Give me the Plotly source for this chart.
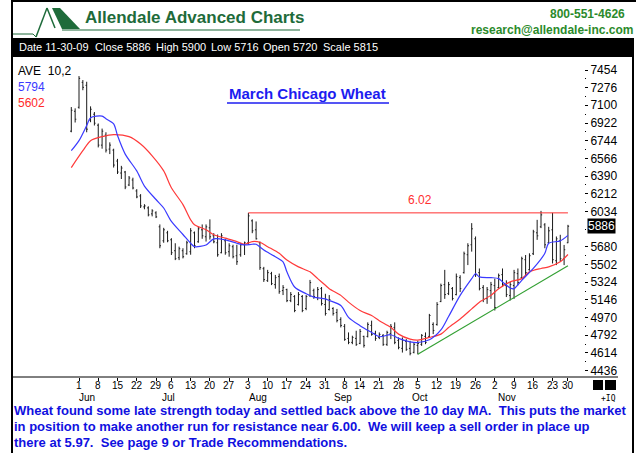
import plotly.graph_objects as go
import pandas as pd

# ---------------- data ----------------
holidays = ["2009-07-03", "2009-09-07", "2009-11-26"]
dates = [d for d in pd.bdate_range("2009-05-28", "2009-11-30") if d.strftime("%Y-%m-%d") not in holidays]

highs = [7082,7069,7393,7353,7336,7089,7032,6917,6866,6829,
         6728,6664,6562,6492,6441,6390,6373,6258,6208,6107,
         6086,6056,6036,5904,5870,5840,5766,5715,5681,5665,
         5740,5867,5833,5880,5904,5904,5955,5816,5803,5816,
         5760,5715,5700,5700,5715,5732,6020,5955,5934,5732,
         5478,5448,5428,5397,5411,5295,5259,5225,5195,5225,
         5195,5195,5347,5259,5276,5276,5208,5195,5073,5056,
         4972,4904,4820,4787,4837,4854,4787,4921,4938,4837,
         4820,4803,4837,4904,4921,4770,4770,4753,4736,4719,
         4736,4803,4820,5006,4921,5124,5310,5448,5327,5276,
         5411,5394,5631,5715,5917,5783,5462,5295,5276,5327,
         5360,5411,5462,5343,5327,5448,5462,5580,5597,5614,
         5850,5950,6040,5917,5880,6020,5783,5800,5698,5900]
lows = [6829,6927,7066,7251,6829,6930,6897,6677,6664,6626,
        6610,6475,6410,6360,6258,6289,6256,6167,6069,6056,
        5985,5985,5968,5665,5720,5725,5597,5546,5546,5563,
        5600,5600,5665,5720,5760,5732,5752,5715,5580,5614,
        5600,5580,5563,5498,5580,5597,5698,5816,5752,5448,
        5327,5327,5295,5259,5208,5195,5124,5124,5023,5090,
        5023,5043,5175,5157,5144,5090,4989,5040,4989,4921,
        4870,4736,4702,4702,4685,4702,4668,4770,4787,4736,
        4753,4685,4685,4753,4702,4651,4618,4635,4590,4610,
        4600,4685,4702,4770,4803,4888,5124,5157,5195,5141,
        5192,5225,5411,5496,5631,5377,5242,5124,5107,5157,
        5040,5259,5276,5175,5141,5157,5293,5360,5394,5440,
        5597,5749,5867,5665,5715,5512,5496,5529,5496,5716]
opens = [6840,7040,7080,7330,7300,6950,7010,6900,6700,6800,
         6660,6650,6540,6420,6430,6300,6350,6240,6190,6080,
         6070,6010,6020,5880,5740,5820,5750,5640,5570,5640,
         5610,5630,5820,5730,5850,5780,5870,5790,5720,5620,
         5740,5630,5680,5590,5600,5700,5720,5940,5850,5720,
         5460,5340,5410,5300,5380,5240,5250,5140,5180,5100,
         5180,5060,5190,5240,5170,5260,5100,5050,5060,5020,
         4950,4880,4760,4720,4760,4710,4780,4780,4890,4810,
         4770,4790,4700,4810,4870,4740,4660,4730,4660,4620,
         4690,4700,4780,4780,4900,4900,5130,5300,5210,5260,
         5200,5370,5420,5600,5700,5760,5420,5270,5160,5240,
         5290,5270,5400,5290,5190,5290,5410,5370,5550,5450,
         5610,5820,5880,5900,5720,5850,5540,5740,5560,5720]
closes = [7050,6960,7370,7280,6860,7060,6920,6700,6840,6650,
          6700,6500,6430,6470,6280,6370,6270,6180,6090,6090,
          6000,6040,5980,5690,5850,5740,5620,5560,5660,5580,
          5720,5840,5690,5860,5790,5880,5780,5730,5600,5790,
          5620,5690,5580,5530,5700,5720,5990,5840,5760,5470,
          5350,5420,5310,5370,5230,5270,5140,5200,5040,5200,
          5040,5180,5320,5180,5250,5110,5010,5150,5010,4940,
          4890,4750,4720,4770,4700,4830,4690,4900,4800,4760,
          4800,4700,4820,4880,4720,4670,4740,4650,4610,4700,
          4710,4790,4720,4990,4840,5100,5290,5200,5300,5160,
          5380,5260,5610,5690,5860,5400,5260,5150,5250,5300,
          5070,5390,5300,5200,5300,5420,5320,5560,5420,5590,
          5830,5790,6000,5700,5840,5550,5760,5560,5650,5886]

# moving averages (trading-day index, value)
ma10_idx = [0,2,4,5,8,9,11,12,14,17,19,22,24,26,29,31,32,35,37,40,43,45,47,48,50,53,55,56,58,61,
            63,66,67,70,72,75,78,80,83,85,88,90,93,96,98,101,104,105,106,109,111,112,114,115,117,120,123,124,127,129]
ma10 = [6644,6745,6897,6975,6991,6965,6914,6796,6610,6441,6289,6154,6069,5934,5803,5715,5681,5698,5759,5749,
        5715,5698,5705,5705,5647,5580,5529,5428,5276,5208,5175,5157,5141,5090,4972,4888,4820,4777,4797,4760,
        4726,4719,4746,4845,4980,5192,5360,5411,5377,5370,5360,5327,5266,5259,5343,5462,5614,5715,5739,5794]
ma20_idx = [0,3,5,8,11,15,18,21,24,26,29,31,32,35,37,40,43,45,47,49,51,54,56,59,62,64,66,67,70,72,
            75,78,80,83,85,88,90,93,96,98,101,104,106,109,111,114,117,119,122,124,127,129]
ma20 = [6475,6644,6745,6785,6806,6785,6711,6593,6441,6272,6103,5951,5901,5850,5800,5766,5732,5705,5732,5725,
        5681,5614,5546,5478,5428,5360,5293,5259,5192,5124,5040,4989,4938,4871,4803,4753,4743,4770,4803,4870,
        4955,5056,5124,5192,5259,5327,5360,5428,5462,5478,5529,5602]

resist_value = 6020
resist_label = "6.02"
resist_dates = ["2009-08-03", "2009-11-30"]
trend_dates = ["2009-10-05", "2009-11-30"]
trend_values = [4600, 5490]

ytick_vals = [7454,7276,7100,6922,6744,6566,6390,6212,6034,5680,5502,5324,5146,4970,4792,4614,4436]
last_close = 5886
month_names = ["Jun", "Jul", "Aug", "Sep", "Oct", "Nov"]

info_items = ["Date 11-30-09", "Close 5886", "High 5900", "Low 5716", "Open 5720", "Scale 5815"]
comment_lines = [
    "Wheat found some late strength today and settled back above the 10 day MA.  This puts the market",
    "in position to make another run for resistance near 6.00.  We will keep a sell order in place up",
    "there at 5.97.  See page 9 or Trade Recommendations.",
]

# ---------------- helpers ----------------
W, H = 636, 453
def px(x): return x / W
def py(y): return 1 - y / H

date_str = [d.strftime("%Y-%m-%d") for d in dates]
idx = list(range(len(dates)))
def di(s): return date_str.index(s)

tick_idx, tick_txt = [], []
for i, d in enumerate(dates):
    if d >= pd.Timestamp("2009-06-01") and (i == 0 or d.isocalendar()[1] != dates[i-1].isocalendar()[1]):
        tick_idx.append(i); tick_txt.append(str(d.day))

X0, PPD = 71.3, 3.85   # pixel of first bar, pixels per day
def xr(p): return (p - X0) / PPD

SANS = "Liberation Sans, Arial, sans-serif"

fig = go.Figure()
fig.add_trace(go.Ohlc(x=idx, open=opens, high=highs, low=lows, close=closes,
                      increasing=dict(line=dict(color="#1a1a1a", width=1)),
                      decreasing=dict(line=dict(color="#1a1a1a", width=1)),
                      tickwidth=0.3, hoverinfo="skip", showlegend=False))
fig.add_trace(go.Scatter(x=ma20_idx, y=ma20, mode="lines", line=dict(color="#ff3a3a", width=1.2, shape="spline", smoothing=0.8),
                         showlegend=False, hoverinfo="skip"))
fig.add_trace(go.Scatter(x=ma10_idx, y=ma10, mode="lines", line=dict(color="#3a3aff", width=1.2, shape="spline", smoothing=0.8),
                         showlegend=False, hoverinfo="skip"))
fig.add_trace(go.Scatter(x=[di(s) for s in resist_dates], y=[resist_value]*2, mode="lines",
                         line=dict(color="#ff3030", width=1), showlegend=False, hoverinfo="skip"))
fig.add_trace(go.Scatter(x=[di(s) for s in trend_dates], y=trend_values, mode="lines",
                         line=dict(color="#33a033", width=1.2), showlegend=False, hoverinfo="skip"))

y_top, y_bot = 58, 377
v_top = 7454 + (70 - y_top) * 10.037
v_bot = 7454 - (y_bot - 70) * 10.037
minor_vals = [(a + b) / 2 for a, b in zip(ytick_vals[:-1], ytick_vals[1:])]

shapes = []
def line(x0, y0, x1, y1, color="black", width=1):
    shapes.append(dict(type="line", xref="paper", yref="paper", x0=px(x0), y0=py(y0), x1=px(x1), y1=py(y1),
                       line=dict(color=color, width=width)))
def rect(x0, y0, x1, y1, color):
    shapes.append(dict(type="rect", xref="paper", yref="paper", x0=px(x0), y0=py(y0), x1=px(x1), y1=py(y1),
                       fillcolor=color, line=dict(width=0)))

# frame
line(12, 0, 12, 453, width=2)
line(12, 1, 636, 1, width=2)
line(633, 38, 633, 453, width=2)
# info bar
rect(12, 38, 633, 57, "black")
# bottom axis line
line(13, 377, 618, 377, width=1)
# squares
rect(593, 380, 603, 390, "black")
rect(605, 380, 616, 390, "black")
# logo
GREEN = "#1e6b3a"
line(13, 34, 33, 34, color=GREEN, width=1)
line(33, 34, 36, 37, color=GREEN, width=1)
line(36, 37, 47, 8, color=GREEN, width=1.5)
line(47, 8, 55, 28, color=GREEN, width=1.5)
shapes.append(dict(type="path", xref="paper", yref="paper",
                   path=f"M {px(52)} {py(8)} L {px(60)} {py(8)} L {px(80)} {py(29)} L {px(62)} {py(29)} Z",
                   fillcolor=GREEN, line=dict(width=0)))
line(62, 30, 300, 30, color=GREEN, width=1.2)
# title underline
line(227, 103, 389, 103, color="#1c1cf0", width=1.5)

ann = []
def text(x, y, s, size=12, color="black", anchor="left", family=SANS, bold=False, **kw):
    ann.append(dict(xref="paper", yref="paper", x=px(x), y=py(y), text=f"<b>{s}</b>" if bold else s,
                    showarrow=False, xanchor=anchor, yanchor="middle",
                    font=dict(size=size, color=color, family=family), **kw))

text(83, 18, "Allendale Advanced Charts", size=17, color=GREEN, bold=True)
text(627, 14, "800-551-4626", size=12, color="#2b8a2b", anchor="right", bold=True)
text(635, 30, "research@allendale-inc.com", size=12, color="#2b8a2b", anchor="right", bold=True)
for s, x in zip(info_items, [17, 93, 154, 209, 261, 321]):
    text(x, 47.5, s, size=11, color="white")
text(16, 71, "AVE  10,2", size=12)
text(16, 87, "5794", size=12, color="#3a3aff")
text(16, 103, "5602", size=12, color="#ff2a2a")
text(307.5, 94, "March Chicago Wheat", size=15, color="#1c1cf0", anchor="center", bold=True)
for i, s in zip(tick_idx, tick_txt):
    ann.append(dict(xref="x", yref="paper", x=i, y=py(385), text=s, showarrow=False,
                    xanchor="center", yanchor="middle", font=dict(size=10, color="black", family=SANS)))
for s, x in zip(month_names, [87, 168, 258, 343, 420, 507]):
    text(x, 397.5, s, size=10, anchor="center")
text(608, 398, "+IQ", size=8, family="DejaVu Sans Mono, monospace", anchor="center")
for i, s in enumerate(comment_lines):
    text(12, 410 + 16 * i, s, size=13, color="#1010e0", bold=True)

# resistance label
ann.append(dict(xref="x", yref="y", x=xr(420), y=resist_value, yshift=13, text=resist_label, showarrow=False,
                font=dict(size=12, color="#ff3030", family=SANS)))
# last close highlighted tick label
ann.append(dict(xref="paper", yref="y", x=px(587), y=last_close, text=str(last_close), showarrow=False,
                xanchor="left", yanchor="middle", bgcolor="black", borderpad=0,
                font=dict(size=12, color="white", family=SANS)))

fig.update_layout(
    width=W, height=H, margin=dict(l=0, r=0, t=0, b=0),
    paper_bgcolor="white", plot_bgcolor="white",
    shapes=shapes, annotations=ann, showlegend=False,
    xaxis=dict(domain=[px(66), px(584)], range=[xr(66), xr(584)], tickmode="array",
               tickvals=tick_idx, ticktext=tick_txt, showticklabels=False,
               ticks="outside", ticklen=3, tickcolor="black",
               showgrid=False, zeroline=False, showline=False, rangeslider=dict(visible=False),
               fixedrange=True),
    yaxis=dict(domain=[py(y_bot), py(y_top)], range=[v_bot, v_top], side="right",
               tickmode="array", tickvals=ytick_vals, ticktext=[str(v) for v in ytick_vals],
               ticks="outside", ticklen=3, tickcolor="black", showgrid=False, zeroline=False, showline=False,
               minor=dict(tickmode="array", tickvals=minor_vals, ticks="outside", ticklen=1, tickcolor="black"),
               tickfont=dict(size=12, family=SANS, color="black"), fixedrange=True),
)

fig.write_html("out.html", config={"displayModeBar": False},
               post_script="document.body.style.margin='0px';document.body.style.padding='0px';")
